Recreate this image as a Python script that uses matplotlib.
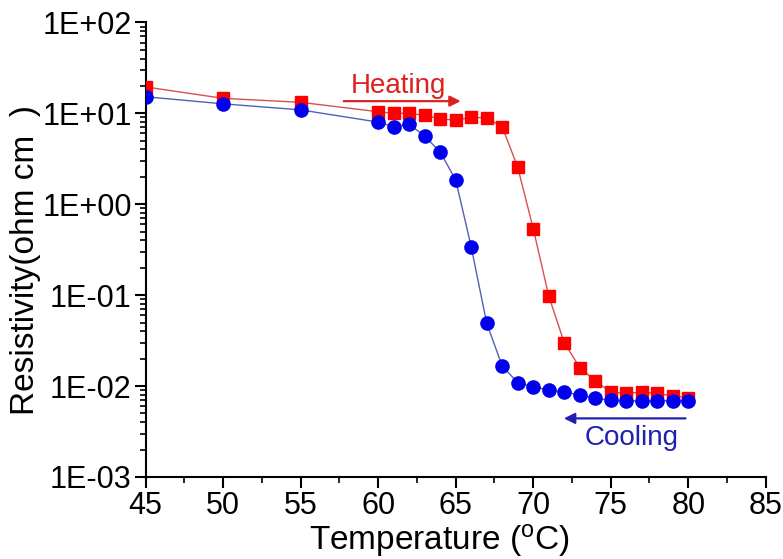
import numpy as np
import matplotlib
matplotlib.use("Agg")
import matplotlib.pyplot as plt
from matplotlib.ticker import FuncFormatter, LogLocator, MultipleLocator

plt.rcParams['font.family'] = ['Liberation Sans', 'DejaVu Sans']

# Heating (red squares)
heat_T = [45, 50, 55, 60, 61, 62, 63, 64, 65, 66, 67, 68, 69, 70, 71, 72, 73, 74,
          75, 76, 77, 78, 79, 80]
heat_R = [19.5, 14.6, 13.2, 10.4, 10.0, 10.0, 9.5, 8.7, 8.4, 9.0, 8.9, 7.1, 2.55,
          0.54, 0.098, 0.030, 0.016, 0.0114, 0.0086, 0.0083, 0.0086, 0.0083,
          0.0078, 0.0074]

# Cooling (blue circles)
cool_T = [45, 50, 55, 60, 61, 62, 63, 64, 65, 66, 67, 68, 69, 70, 71, 72, 73, 74,
          75, 76, 77, 78, 79, 80]
cool_R = [15.2, 12.7, 10.9, 8.0, 7.1, 7.6, 5.6, 3.75, 1.85, 0.34, 0.049, 0.0166,
          0.0109, 0.0098, 0.0091, 0.0086, 0.0080, 0.0073, 0.0070, 0.0069, 0.0069,
          0.0069, 0.0069, 0.0069]

fig = plt.figure(figsize=(7.83, 5.59), dpi=100)
ax = fig.add_axes([0.186, 0.1467, 0.792, 0.8133])

ax.plot(heat_T, heat_R, color='#d85050', lw=1.0, marker='s', ms=8.5,
        mfc='#ff0000', mec='#ff0000', zorder=3)
ax.plot(cool_T, cool_R, color='#5060b8', lw=1.0, marker='o', ms=9.5,
        mfc='#0000ee', mec='#0000ee', zorder=4)

ax.set_yscale('log')
ax.set_xlim(45, 85)
ax.set_ylim(1e-3, 1e2)

ax.xaxis.set_major_locator(MultipleLocator(5))
ax.xaxis.set_minor_locator(MultipleLocator(2.5))
ax.yaxis.set_major_locator(LogLocator(base=10, numticks=10))
ax.yaxis.set_minor_locator(LogLocator(base=10, subs=np.arange(2, 10), numticks=20))
ax.yaxis.set_major_formatter(FuncFormatter(lambda v, p: "1E{:+03d}".format(int(round(np.log10(v))))))
ax.yaxis.set_minor_formatter(FuncFormatter(lambda v, p: ""))

for s in ['top', 'right']:
    ax.spines[s].set_visible(False)
for s in ['left', 'bottom']:
    ax.spines[s].set_linewidth(1.5)

ax.tick_params(which='major', direction='out', length=8, width=1.5, labelsize=22, pad=2)
ax.tick_params(which='minor', direction='out', length=4, width=1.2)

ax.set_xlabel('Temperature ($\\mathregular{^{o}}$C)', fontsize=24, va='baseline')
ax.set_ylabel('Resistivity(ohm cm  )', fontsize=24)
ax.xaxis.set_label_coords(0.4745, -0.1606)
ax.yaxis.set_label_coords(-0.1685, 0.477)

# annotations
ax.annotate('', xy=(65.5, 13.6), xytext=(57.6, 13.6),
            arrowprops=dict(arrowstyle='-|>', color='#dd2020', lw=1.6, mutation_scale=16))
ax.text(61.3, 16.7, 'Heating', color='#dd2020', fontsize=20, ha='center', va='baseline')
ax.annotate('', xy=(71.8, 0.00441), xytext=(80.0, 0.00441),
            arrowprops=dict(arrowstyle='-|>', color='#2020b0', lw=1.6, mutation_scale=16))
ax.text(76.35, 0.00224, 'Cooling', color='#2020b0', fontsize=20, ha='center', va='baseline')

fig.savefig('out.png', dpi=100)
